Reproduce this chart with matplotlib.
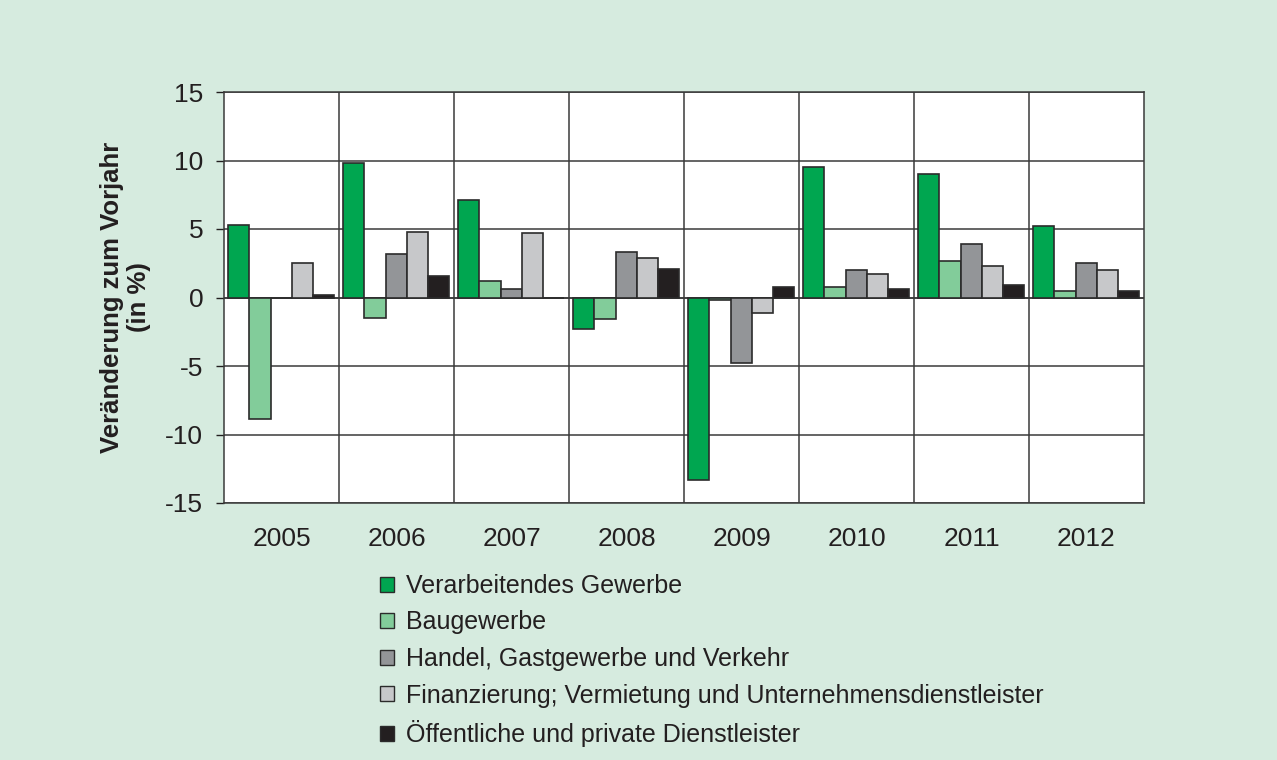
import matplotlib
matplotlib.use("Agg")
import matplotlib.pyplot as plt
import numpy as np
from matplotlib.patches import Patch

plt.rcParams['font.family'] = ['Liberation Sans', 'DejaVu Sans']
plt.rcParams['axes.unicode_minus'] = False

# Daten
jahre = ['2005', '2006', '2007', '2008', '2009', '2010', '2011', '2012']
verarbeitendes = [5.3, 9.8, 7.1, -2.3, -13.3, 9.5, 9.0, 5.2]
baugewerbe = [-8.9, -1.5, 1.2, -1.6, -0.2, 0.8, 2.7, 0.5]
handel = [0.0, 3.2, 0.6, 3.3, -4.8, 2.0, 3.9, 2.5]
finanzierung = [2.5, 4.8, 4.7, 2.9, -1.1, 1.7, 2.3, 2.0]
dienstleister = [0.2, 1.6, 0.0, 2.1, 0.8, 0.6, 0.9, 0.5]

reihen = [verarbeitendes, baugewerbe, handel, finanzierung, dienstleister]
namen = ['Verarbeitendes Gewerbe', 'Baugewerbe', 'Handel, Gastgewerbe und Verkehr',
         'Finanzierung; Vermietung und Unternehmensdienstleister',
         'Öffentliche und private Dienstleister']
farben = ['#00a650', '#82cc9a', '#939598', '#c7c8ca', '#231f20']
bg = '#d6ebdf'
kante = '#2b2b2b'
textfarbe = '#231f20'

fig = plt.figure(figsize=(12.77, 7.6), dpi=100, facecolor=bg)
ax = fig.add_axes([224 / 1277, 1 - 503 / 760, 920 / 1277, 411 / 760])
ax.set_facecolor('white')

x = np.arange(len(jahre))
breite = 0.185
start = -0.5 + 0.035
for i, (werte, farbe) in enumerate(zip(reihen, farben)):
    ax.bar(x + start + i * breite, werte, width=breite, align='edge',
           color=farbe, edgecolor=kante, linewidth=1.2, zorder=3)

ax.set_xlim(-0.5, len(jahre) - 0.5)
ax.set_ylim(-15, 15)
ax.set_yticks(range(-15, 16, 5))
ax.set_xticks(x)
ax.set_xticklabels(jahre)
ax.tick_params(axis='x', length=0, pad=17, labelsize=19, colors=textfarbe)
ax.tick_params(axis='y', length=6, width=1, direction='out', pad=9,
               labelsize=19, colors=textfarbe)
ax.yaxis.grid(True, color='#3a3a3a', linewidth=1.1, zorder=1)
for b in np.arange(0.5, len(jahre) - 0.5, 1):
    ax.axvline(b, color='#3a3a3a', linewidth=1.1, zorder=1)
ax.axhline(0, color='#3a3a3a', linewidth=1.1, zorder=2)
for s in ax.spines.values():
    s.set_color('#3a3a3a')
    s.set_linewidth(1.1)

ax.set_ylabel('Veränderung zum Vorjahr\n(in %)', fontsize=18.5, fontweight='bold',
              color=textfarbe, linespacing=1.15, labelpad=10)

handles = [Patch(facecolor=f, edgecolor=kante, linewidth=1.0) for f in farben]
fig.legend(handles, namen, loc='upper left', bbox_to_anchor=(380 / 1277, 1 - 574 / 760),
           frameon=False, fontsize=18, handlelength=0.55, handleheight=0.55,
           handletextpad=0.5, labelspacing=0.5, borderpad=0, borderaxespad=0,
           labelcolor=textfarbe)

fig.savefig('out.png', dpi=100, facecolor=bg)
